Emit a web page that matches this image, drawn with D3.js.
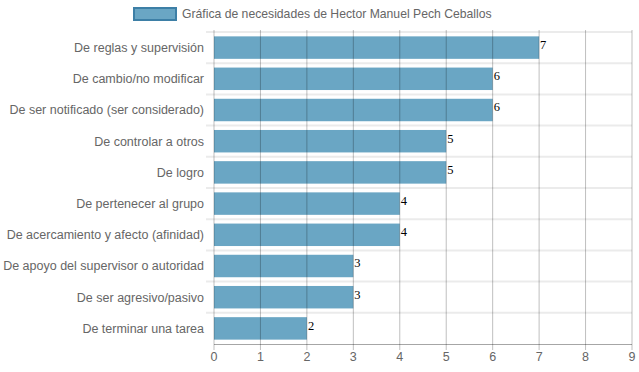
<!DOCTYPE html>
<html>
<head>
<meta charset="utf-8">
<script src="https://cdn.jsdelivr.net/npm/d3@7"></script>
<style>
  body { margin: 0; background: #fff; }
  svg text { font-family: "Liberation Sans", Arial, sans-serif; }
</style>
</head>
<body>
<div class="bar_chart"></div>
<script>
var categories = [
  "De reglas y supervisión",
  "De cambio/no modificar",
  "De ser notificado (ser considerado)",
  "De controlar a otros",
  "De logro",
  "De pertenecer al grupo",
  "De acercamiento y afecto (afinidad)",
  "De apoyo del supervisor o autoridad",
  "De ser agresivo/pasivo",
  "De terminar una tarea"
];
var values = [7, 6, 6, 5, 5, 4, 4, 3, 3, 2];
var xTicks = [0, 1, 2, 3, 4, 5, 6, 7, 8, 9];
var seriesName = "Gráfica de necesidades de Hector Manuel Pech Ceballos";

var width = 639, height = 372;
var margin = { top: 32, right: 7, bottom: 28, left: 214 };

var svg = d3.select(".bar_chart")
  .append("svg")
  .attr("width", width)
  .attr("height", height);

var x = d3.scaleLinear().domain([0, 9]).range([margin.left, width - margin.right]);
var y = d3.scaleBand().domain(categories).range([margin.top, height - margin.bottom]).paddingInner(0).paddingOuter(0);

// horizontal grid lines between categories
var bounds = categories.map(function (d) { return y(d); });
svg.selectAll(".hgrid")
  .data(bounds)
  .enter()
  .append("line")
  .attr("x1", margin.left - 8)
  .attr("x2", width - margin.right)
  .attr("y1", function (d) { return d; })
  .attr("y2", function (d) { return d; })
  .style("stroke", "#ebebeb")
  .style("stroke-width", 2);

// bars
var barH = y.bandwidth() * 0.72;
svg.selectAll(".bar")
  .data(values)
  .enter()
  .append("rect")
  .attr("class", "bar")
  .attr("x", x(0))
  .attr("y", function (d, i) { return y(categories[i]) + (y.bandwidth() - barH) / 2; })
  .attr("width", function (d) { return x(d) - x(0); })
  .attr("height", barH)
  .style("fill", "#6aa6c4");

// vertical grid lines (drawn over bars, semi-transparent)
svg.selectAll(".vgrid")
  .data(xTicks)
  .enter()
  .append("line")
  .attr("x1", function (d) { return x(d); })
  .attr("x2", function (d) { return x(d); })
  .attr("y1", margin.top - 2)
  .attr("y2", height - margin.bottom + 6)
  .style("stroke", "rgba(0,0,0,0.25)")
  .style("stroke-width", 1);

// x axis line
svg.append("line")
  .attr("x1", x(0))
  .attr("x2", width - margin.right)
  .attr("y1", height - margin.bottom + 0.5)
  .attr("y2", height - margin.bottom + 0.5)
  .style("stroke", "rgba(0,0,0,0.35)");

// tick labels
svg.selectAll(".xtick")
  .data(xTicks)
  .enter()
  .append("text")
  .attr("x", function (d) { return x(d); })
  .attr("y", height - margin.bottom + 17)
  .attr("text-anchor", "middle")
  .style("font-size", "12.5px")
  .style("fill", "#666")
  .text(function (d) { return d; });

// category labels
svg.selectAll(".ylab")
  .data(categories)
  .enter()
  .append("text")
  .attr("x", margin.left - 10)
  .attr("y", function (d) { return y(d) + y.bandwidth() / 2; })
  .attr("dy", "0.35em")
  .attr("text-anchor", "end")
  .style("font-size", "12.5px")
  .style("fill", "#666")
  .text(function (d) { return d; });

// value labels
svg.selectAll(".vlab")
  .data(values)
  .enter()
  .append("text")
  .attr("x", function (d) { return x(d) + 1; })
  .attr("y", function (d, i) { return y(categories[i]) + y.bandwidth() / 2 - 3; })
  .attr("dy", "0.35em")
  .style("font-family", "'Liberation Serif', 'Times New Roman', serif")
  .style("font-size", "12.5px")
  .style("fill", "#000")
  .text(function (d) { return d; });

// legend
svg.append("rect")
  .attr("x", 134)
  .attr("y", 8)
  .attr("width", 42)
  .attr("height", 12)
  .style("fill", "#6aa6c4")
  .style("stroke", "#3d7fa6")
  .style("stroke-width", 2);
svg.append("text")
  .attr("x", 182)
  .attr("y", 14)
  .attr("dy", "0.35em")
  .style("font-size", "12.2px")
  .style("fill", "#666")
  .text(seriesName);
</script>
</body>
</html>
